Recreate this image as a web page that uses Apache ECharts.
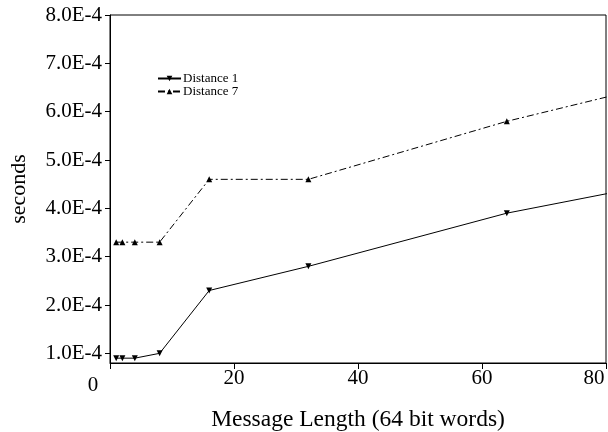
<!DOCTYPE html>
<html>
<head>
<meta charset="utf-8">
<script src="https://cdn.jsdelivr.net/npm/echarts@6/dist/echarts.min.js"></script>
<style>html,body{margin:0;padding:0;background:#fff;}#c{width:608px;height:432px;}</style>
</head>
<body>
<div id="c"></div>
<script>
var xValues = [1, 2, 4, 8, 16, 32, 64, 128];
var distance1 = [0.9e-4, 0.9e-4, 0.9e-4, 1.0e-4, 2.3e-4, 2.8e-4, 3.9e-4, 5.5e-4];
var distance7 = [3.3e-4, 3.3e-4, 3.3e-4, 3.3e-4, 4.6e-4, 4.6e-4, 5.8e-4, 7.8e-4];
var yTicks = [1e-4, 2e-4, 3e-4, 4e-4, 5e-4, 6e-4, 7e-4, 8e-4];
var seriesNames = ['Distance 1', 'Distance 7'];

function pairs(xs, ys) { return xs.map(function (x, i) { return [x, ys[i]]; }); }
var FONT = 'Liberation Serif';
var chart = echarts.init(document.getElementById('c'), null, { renderer: 'canvas' });
chart.setOption({
  animation: false,
  backgroundColor: '#fff',
  grid: { left: 110, right: 2, top: 15, bottom: 69, containLabel: false, outerBoundsMode: 'none', show: true, borderColor: '#000', borderWidth: 1, backgroundColor: 'transparent' },
  legend: {
    orient: 'vertical', left: 157, top: 72, padding: 0, itemWidth: 23, itemHeight: 7, itemGap: 0,
    textStyle: { fontFamily: FONT, fontSize: 13, color: '#000', lineHeight: 13, padding: [0, 0, 0, -3] },
    data: seriesNames
  },
  xAxis: {
    type: 'value', min: 0, max: 80, interval: 20,
    name: 'Message Length (64 bit words)', nameLocation: 'middle', nameGap: 45,
    nameTextStyle: { fontFamily: FONT, fontSize: 23.5, color: '#000' },
    axisLine: { lineStyle: { color: '#000', width: 1 } },
    axisTick: { length: 6, lineStyle: { color: '#000' } },
    splitLine: { show: false },
    axisLabel: {
      margin: 5, fontFamily: FONT, fontSize: 21, color: '#000',
      formatter: function (v) { if (v === 0) return '{z|0}'; if (v === 80) return '{e|80}'; return String(v); },
      rich: {
        z: { fontFamily: FONT, fontSize: 21, color: '#000', padding: [7, 34, 0, 0] },
        e: { fontFamily: FONT, fontSize: 21, color: '#000', padding: [0, 24, 0, 0] }
      }
    }
  },
  yAxis: {
    type: 'value', min: 0.8e-4, max: 8e-4,
    name: 'seconds', nameLocation: 'middle', nameGap: 80, nameRotate: 90,
    nameTextStyle: { fontFamily: FONT, fontSize: 22, color: '#000' },
    axisLine: { show: true, lineStyle: { color: '#000', width: 1 } },
    axisTick: { show: true, length: 5, customValues: yTicks, lineStyle: { color: '#000' } },
    splitLine: { show: false },
    axisLabel: {
      margin: 8, fontFamily: FONT, fontSize: 21, color: '#000', customValues: yTicks,
      formatter: function (v) { return (v * 1e4).toFixed(1) + 'E-4'; }
    }
  },
  series: [
    {
      name: seriesNames[0], type: 'line', data: pairs(xValues, distance1),
      symbol: 'triangle', symbolRotate: 180, symbolSize: 6, showAllSymbol: true,
      itemStyle: { color: '#000' }, lineStyle: { color: '#000', width: 1, type: 'solid' },
      clip: true
    },
    {
      name: seriesNames[1], type: 'line', data: pairs(xValues, distance7),
      symbol: 'triangle', symbolSize: 6, showAllSymbol: true,
      itemStyle: { color: '#000' }, lineStyle: { color: '#000', width: 1, type: [7, 3, 2, 3] },
      clip: true
    }
  ]
});
</script>
</body>
</html>
